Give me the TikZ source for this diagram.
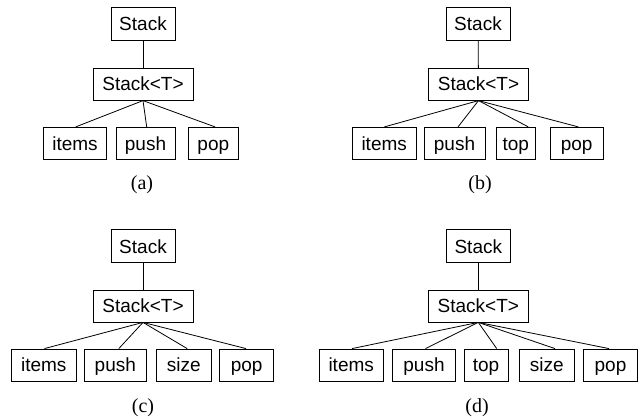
\documentclass[tikz,border=0pt]{standalone}
\usepackage{fontspec}
\setmainfont{Liberation Serif}
\setsansfont{Liberation Sans}
\begin{document}
\begin{tikzpicture}[x=1pt,y=-1pt,
  box/.style={draw, line width=0.8pt, inner sep=0pt, minimum height=32pt,
    text height=13.6pt, text depth=0pt,
    font=\sffamily\fontsize{19}{22}\selectfont},
  captxt/.style={inner sep=0pt, font=\rmfamily\fontsize{20}{24}\selectfont},
  conn/.style={line width=0.8pt}]
\useasboundingbox (0,0) rectangle (644,419);
% (a)
\node[box, minimum width=64pt, minimum height=33pt] (aS) at (143,24) {Stack};
\node[box, minimum width=100pt] (aT) at (143,84.2) {Stack<T>};
\node[box, minimum width=63.4pt] (aI) at (75,143.3) {items};
\node[box, minimum width=59pt] (aPu) at (145.5,143.3) {push};
\node[box, minimum width=50pt] (aPo) at (213.3,143.3) {pop};
\node[captxt] (aC) at (142,185) {(a)};
\draw[conn] (aS) -- (aT);
\draw[conn] (aT.south) -- ([xshift=0.7pt]aI.north);
\draw[conn] (aT.south) -- ([xshift=1.2pt]aPu.north);
\draw[conn] (aT.south) -- ([xshift=1.7pt]aPo.north);
% (b)
\node[box, minimum width=64pt, minimum height=33pt] (bS) at (478,24) {Stack};
\node[box, minimum width=100pt] (bT) at (478.5,84.2) {Stack<T>};
\node[box, minimum width=63.7pt] (bI) at (384.2,143.3) {items};
\node[box, minimum width=61pt] (bPu) at (454.5,143.3) {push};
\node[box, minimum width=38.3pt] (bTo) at (515.8,143.3) {top};
\node[box, minimum width=53.3pt] (bPo) at (576.7,143.3) {pop};
\node[captxt] (bC) at (480,185) {(b)};
\draw[conn] (bS) -- (bT);
\draw[conn] (bT.south) -- ([xshift=0.2pt]bI.north);
\draw[conn] (bT.south) -- ([xshift=3.5pt]bPu.north);
\draw[conn] (bT.south) -- ([xshift=12.5pt]bTo.north);
\draw[conn] (bT.south) -- ([xshift=1.6pt]bPo.north);
% (c)
\node[box, minimum width=64pt, minimum height=33pt] (cS) at (143,246.3) {Stack};
\node[box, minimum width=100pt] (cT) at (143,306) {Stack<T>};
\node[box, minimum width=65pt] (cI) at (43.8,365) {items};
\node[box, minimum width=62.7pt] (cPu) at (115.3,365) {push};
\node[box, minimum width=54.3pt] (cSi) at (183.8,365) {size};
\node[box, minimum width=54pt] (cPo) at (246.7,365) {pop};
\node[captxt] (cC) at (143,408) {(c)};
\draw[conn] (cS) -- (cT);
\draw[conn] (cT.south) -- ([xshift=0.6pt]cI.north);
\draw[conn] (cT.south) -- ([xshift=3.5pt]cPu.north);
\draw[conn] (cT.south) -- ([xshift=3.4pt]cSi.north);
\draw[conn] (cT.south) -- ([xshift=-0.7pt]cPo.north);
% (d)
\node[box, minimum width=63.3pt, minimum height=33pt] (dS) at (478.3,246.3) {Stack};
\node[box, minimum width=100pt] (dT) at (478.3,306) {Stack<T>};
\node[box, minimum width=64.3pt] (dI) at (351.2,365) {items};
\node[box, minimum width=62.3pt] (dPu) at (424,365) {push};
\node[box, minimum width=44pt] (dTo) at (486,365) {top};
\node[box, minimum width=54.5pt] (dSi) at (546.7,365) {size};
\node[box, minimum width=53.4pt] (dPo) at (610.5,365) {pop};
\node[captxt] (dC) at (477,408) {(d)};
\draw[conn] (dS) -- (dT);
\draw[conn] (dT.south) -- ([xshift=0.8pt]dI.north);
\draw[conn] (dT.south) -- ([xshift=1.5pt]dPu.north);
\draw[conn] (dT.south) -- ([xshift=10.7pt]dTo.north);
\draw[conn] (dT.south) -- ([xshift=8.3pt]dSi.north);
\draw[conn] (dT.south) -- ([xshift=-1.5pt]dPo.north);
\end{tikzpicture}
\end{document}
